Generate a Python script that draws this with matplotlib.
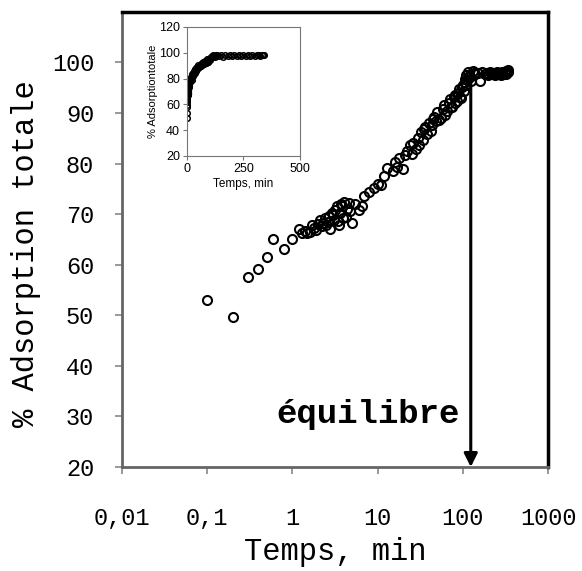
import matplotlib
matplotlib.use("Agg")
import matplotlib.pyplot as plt
from matplotlib.ticker import FixedLocator, FixedFormatter

# temps (min) et % adsorption totale
temps = [0.1, 0.2, 0.3, 0.4, 0.5, 0.6, 0.8, 1.0,
         1.2, 1.3, 1.4, 1.5, 1.6, 1.7, 1.8, 1.9, 2.0, 2.1, 2.2, 2.3, 2.4, 2.5,
         2.6, 2.7, 2.8, 2.9, 3.0, 3.1, 3.2, 3.3, 3.4, 3.5, 3.6, 3.7, 3.8, 3.9,
         4.0, 4.2, 4.4, 4.6, 4.8, 5.0, 5.5, 6.0, 6.5, 7.0, 8.0, 9.0,
         10, 11, 12, 13, 15, 16, 17, 18, 20, 21, 22, 24, 25, 26, 28, 30, 31,
         32, 34, 35, 36, 38, 40, 42, 44, 45, 46, 48, 50, 52, 55, 58, 60, 62,
         65, 68, 70, 72, 75, 78, 80, 82, 85, 88, 90, 92, 95, 98, 100, 102,
         105, 108, 110, 112, 115, 118, 120, 125, 130, 135, 140, 150, 160,
         170, 180, 190, 200, 210, 220, 230, 240, 250, 260, 270, 280, 290,
         300, 310, 320, 325, 330, 335, 340]
adsorption = [53.0, 49.7, 57.6, 59.2, 61.5, 65.0, 63.2, 65.0,
              67.0, 66.2, 66.6, 66.2, 66.4, 67.8, 67.2, 66.8, 68.0, 68.8, 67.6, 68.2, 69.2, 67.8,
              68.4, 69.6, 67.0, 70.2, 69.8, 68.8, 70.8, 71.6, 68.6, 67.9, 70.2, 72.0, 71.6, 69.2,
              72.4, 69.4, 71.0, 72.2, 70.6, 68.2, 72.0, 70.8, 71.6, 73.6, 74.4, 75.2,
              76.0, 75.8, 77.6, 79.2, 78.6, 80.4, 79.4, 81.2, 79.0, 81.8, 82.4, 83.6, 82.0, 84.0, 82.8, 85.0, 83.6,
              86.2, 84.6, 86.8, 87.2, 85.8, 88.0, 86.4, 87.6, 88.8, 89.2, 88.4, 90.2, 88.6, 89.0, 90.8, 91.6, 89.6,
              90.4, 92.0, 92.8, 91.2, 91.2, 93.2, 93.6, 92.0, 92.4, 94.0, 94.8, 93.2, 93.0, 95.2, 95.6, 94.4,
              96.8, 95.6, 97.6, 96.6, 98.2, 97.4, 97.2, 96.4, 98.4, 98.0, 97.8, 98.0, 96.4,
              98.2, 97.8, 98.0, 97.6, 98.2, 97.8, 98.0, 97.6, 98.2, 97.8, 98.0, 97.6, 98.2,
              97.8, 98.0, 98.4, 97.8, 98.2, 98.6, 98.2]

x_ticks = [0.01, 0.1, 1, 10, 100, 1000]
x_labels = ["0,01", "0,1", "1", "10", "100", "1000"]
y_ticks = [20, 30, 40, 50, 60, 70, 80, 90, 100]

t_equilibre = 124
y_equilibre = 97.5

mono = "Liberation Mono"
sans = "Liberation Sans"

fig = plt.figure(figsize=(5.82, 5.71), dpi=100)
ax = fig.add_axes([0.2096, 0.1821, 0.732, 0.797])

ax.plot(temps, adsorption, linestyle="none", marker="o", markersize=6.5,
        markerfacecolor="none", markeredgecolor="black", markeredgewidth=1.5)

ax.set_xscale("log")
ax.set_xlim(0.01, 1000)
ax.set_ylim(20, 110)
ax.xaxis.set_major_locator(FixedLocator(x_ticks))
ax.xaxis.set_major_formatter(FixedFormatter(x_labels))
ax.xaxis.set_minor_locator(FixedLocator([]))
ax.set_yticks(y_ticks)

for lab in ax.get_xticklabels() + ax.get_yticklabels():
    lab.set_fontfamily(mono)
    lab.set_fontsize(17)
ax.tick_params(axis="x", direction="out", length=5, width=1.2, color="#888888", pad=24)
ax.tick_params(axis="y", direction="out", length=5, width=1.2, color="#888888", pad=15)

for side in ["left", "bottom"]:
    ax.spines[side].set_color("#666666")
    ax.spines[side].set_linewidth(2)
for side in ["top", "right"]:
    ax.spines[side].set_color("black")
    ax.spines[side].set_linewidth(2.5)

ax.set_xlabel("Temps, min", fontfamily=mono, fontsize=22, labelpad=5)
ax.set_ylabel("% Adsorption totale", fontfamily=mono, fontsize=22)
ax.yaxis.set_label_coords(-0.19, 0.47)

# fleche d'equilibre
ax.annotate("", xy=(t_equilibre, 20), xytext=(t_equilibre, y_equilibre),
            arrowprops=dict(arrowstyle="-|>,head_length=0.8,head_width=0.4",
                            color="black", lw=2.2, shrinkA=0, shrinkB=0))
ax.text(0.65, 30.3, "équilibre", fontfamily=mono, fontsize=24.5,
        fontweight="bold", va="center", ha="left")

# encart en echelle lineaire
ins = fig.add_axes([0.3213, 0.7268, 0.194, 0.226])
ins.plot(temps, adsorption, linestyle="none", marker="o", markersize=4,
         markerfacecolor="none", markeredgecolor="black", markeredgewidth=1.1)
ins.set_xlim(0, 500)
ins.set_ylim(20, 120)
ins.set_xticks([0, 250, 500])
ins.set_yticks([20, 40, 60, 80, 100, 120])
for lab in ins.get_xticklabels() + ins.get_yticklabels():
    lab.set_fontfamily(sans)
    lab.set_fontsize(9)
ins.tick_params(direction="out", length=3, width=0.8, color="#777777", pad=2)
for sp in ins.spines.values():
    sp.set_color("#777777")
    sp.set_linewidth(0.8)
ins.set_xlabel("Temps, min", fontfamily=sans, fontsize=8.5, labelpad=2)
ins.set_ylabel("% Adsorptiontotale", fontfamily=sans, fontsize=8, labelpad=1)

fig.savefig("out.png", dpi=100)
